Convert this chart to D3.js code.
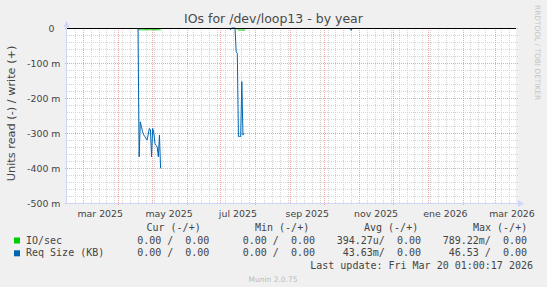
<!DOCTYPE html>
<html>
<head>
<meta charset="utf-8">
<script src="https://cdn.jsdelivr.net/npm/d3@7"></script>
<style>
	html, body { margin: 0; padding: 0; background: #f0f0f0; }
	svg { display: block; }
	text { font-family: 'DejaVu Sans', sans-serif; }
	.mono { font-family: 'DejaVu Sans Mono', monospace; white-space: pre; }
</style>
</head>
<body>
<div id="chart"></div>
<script>
// Chart data (values in milli-units, read side is negative)
const titleText = 'IOs for /dev/loop13 - by year';
const yAxisTitle = 'Units read (-) / write (+)';
const yTicks = [0, -100, -200, -300, -400, -500];
const xTickMonths = ['2025-03-01', '2025-05-01', '2025-07-01', '2025-09-01', '2025-11-01', '2026-01-01', '2026-03-01'];
const xTickLabels = ['mar 2025', 'may 2025', 'jul 2025', 'sep 2025', 'nov 2025', 'ene 2026', 'mar 2026'];

const reqSizeDates = [
	'2025-04-19', '2025-04-20', '2025-04-21', '2025-04-22', '2025-04-23', '2025-04-24', '2025-04-25',
	'2025-04-26', '2025-04-27', '2025-04-28', '2025-04-29', '2025-04-30', '2025-05-01', '2025-05-02',
	'2025-05-03', '2025-05-04', '2025-05-05', '2025-05-06', '2025-05-07', '2025-05-08', '2025-05-09',
	'2025-05-10',
	'2025-07-09', '2025-07-10', '2025-07-11',
	'2025-07-14', '2025-07-15', '2025-07-16', '2025-07-17', '2025-07-18', '2025-07-19', '2025-07-20',
	'2025-07-21', '2025-07-22', '2025-07-23',
	'2025-10-24', '2025-10-25', '2025-10-26'
];
const reqSizeRead = [
	0, -368, -268, -282, -296, -305, -310,
	-315, -320, -305, -287, -290, -368, -287,
	-300, -330, -335, -340, -368, -306, -401,
	null,
	0, -5, 0,
	0, -68, -72, -310, -310, -310, -153,
	-306, -300, null,
	0, -7, 0
];

const ioSecDates = [
	'2025-04-19', '2025-04-20', '2025-04-21', '2025-04-22', '2025-04-23', '2025-04-24', '2025-04-25',
	'2025-04-26', '2025-04-27', '2025-04-28', '2025-04-29', '2025-04-30', '2025-05-01', '2025-05-02',
	'2025-05-03', '2025-05-04', '2025-05-05', '2025-05-06', '2025-05-07', '2025-05-08', '2025-05-09',
	'2025-05-10',
	'2025-07-16', '2025-07-17', '2025-07-18', '2025-07-19', '2025-07-20', '2025-07-21', '2025-07-22',
	'2025-07-23', '2025-07-24'
];
const ioSecRead = [
	0, -5, -5, -5, -5, -5, -5,
	-5, -5, -5, -5, -5, -5, -5,
	-5, -5, -5, -5, -5, -5, -5,
	null,
	0, -6, -6, -6, -6, -6, -6,
	-6, null
];

// Legend table
const legendHeaders = ['Cur (-/+)', 'Min (-/+)', 'Avg (-/+)', 'Max (-/+)'];
const legendNames = ['IO/sec', 'Req Size (KB)'];
const legendColors = ['#00cc00', '#0066b3'];
const legendCur = ['0.00 /  0.00', '0.00 /  0.00'];
const legendMin = ['0.00 /  0.00', '0.00 /  0.00'];
const legendAvg = ['394.27u/  0.00', '43.63m/  0.00'];
const legendMax = ['789.22m/  0.00', '46.53 /  0.00'];
const lastUpdate = 'Last update: Fri Mar 20 01:00:17 2026';
const muninVersion = 'Munin 2.0.75';

const width = 547,
	height = 287,
	plotLeft = 67,
	plotRight = 516,
	plotTop = 28,
	plotBottom = 203;

const fontColor = '#444',
	axisColor = '#cfd6f8',
	gridColor = '#d4d4d4',
	mgridColor = '#f5a3a3';

const parseDay = d3.timeParse('%Y-%m-%d');

const svg = d3.select('#chart').append('svg')
	.attr('width', width)
	.attr('height', height);

svg.append('rect')
	.attr('width', width)
	.attr('height', height)
	.attr('fill', '#f0f0f0');

// Scales
const x = d3.scaleTime()
	.domain([new Date(2025, 1, 15, 1), new Date(2026, 2, 20, 1)])
	.range([plotLeft, plotRight]);

const y = d3.scaleLinear()
	.domain([d3.min(yTicks), d3.max(yTicks)])
	.range([plotBottom, plotTop]);

// Canvas
svg.append('rect')
	.attr('x', plotLeft)
	.attr('y', plotTop)
	.attr('width', plotRight - plotLeft)
	.attr('height', plotBottom - plotTop)
	.attr('fill', '#ffffff');

// Grid
const grid = svg.append('g')
	.attr('shape-rendering', 'crispEdges')
	.attr('stroke-width', 1)
	.attr('stroke-dasharray', '1,1');

const px = v => Math.round(v) + 0.5;
const monthStarts = d3.timeMonth.range(x.domain()[0], x.domain()[1]);
const weekLines = d3.timeSaturday.range(x.domain()[0], x.domain()[1])
	.filter(d => !monthStarts.some(m => Math.abs(x(m) - x(d)) < 2));
const minorY = d3.range(d3.min(yTicks), d3.max(yTicks), 20).filter(v => v % 100 !== 0);

grid.selectAll('.vminor')
	.data(weekLines)
	.enter().append('line')
	.attr('x1', d => px(x(d))).attr('x2', d => px(x(d)))
	.attr('y1', plotTop).attr('y2', plotBottom)
	.attr('stroke', gridColor);

grid.selectAll('.hminor')
	.data(minorY)
	.enter().append('line')
	.attr('x1', plotLeft).attr('x2', plotRight + 2)
	.attr('y1', d => px(y(d))).attr('y2', d => px(y(d)))
	.attr('stroke', gridColor);

grid.selectAll('.vmajor')
	.data(monthStarts)
	.enter().append('line')
	.attr('x1', d => px(x(d))).attr('x2', d => px(x(d)))
	.attr('y1', plotTop)
	.attr('y2', d => d.getMonth() % 2 === 1 ? plotBottom + 3 : plotBottom)
	.attr('stroke', mgridColor);

grid.selectAll('.hmajor')
	.data(yTicks)
	.enter().append('line')
	.attr('x1', plotLeft - 2).attr('x2', plotRight + 2)
	.attr('y1', d => px(y(d))).attr('y2', d => px(y(d)))
	.attr('stroke', mgridColor);

// Axes
svg.append('line')
	.attr('x1', plotLeft - 0.5).attr('x2', plotLeft - 0.5)
	.attr('y1', plotBottom + 1).attr('y2', 23)
	.attr('stroke', axisColor);
svg.append('line')
	.attr('x1', plotLeft - 1).attr('x2', 519)
	.attr('y1', plotBottom + 0.5).attr('y2', plotBottom + 0.5)
	.attr('stroke', axisColor);
svg.append('path')
	.attr('d', 'M63.5,27 L69.5,27 L66.5,21 Z')
	.attr('fill', axisColor);
svg.append('path')
	.attr('d', 'M518,200 L518,207 L524,203.5 Z')
	.attr('fill', axisColor);

// Tick labels
svg.selectAll('.ylabel')
	.data(yTicks)
	.enter().append('text')
	.attr('x', 60.5)
	.attr('y', d => y(d) + 3.5)
	.attr('text-anchor', 'end')
	.style('white-space', 'pre')
	.style('font-size', '9.4px')
	.style('fill', fontColor)
	.text(d => d === 0 ? '0  ' : d + ' m');

svg.selectAll('.xlabel')
	.data(xTickMonths)
	.enter().append('text')
	.attr('x', d => {
		const m = parseDay(d);
		return (x(m) + x(d3.timeMonth.offset(m, 1))) / 2;
	})
	.attr('y', 216.5)
	.attr('text-anchor', 'middle')
	.style('font-size', '9.4px')
	.style('fill', fontColor)
	.text((d, i) => xTickLabels[i]);

// Series
const line = d3.line()
	.defined(d => d.value !== null)
	.x(d => x(d.date))
	.y(d => y(d.value));

const series = [
	{ color: legendColors[0], data: ioSecDates.map((d, i) => ({ date: parseDay(d), value: ioSecRead[i] })) },
	{ color: legendColors[1], data: reqSizeDates.map((d, i) => ({ date: parseDay(d), value: reqSizeRead[i] })) }
];

series.forEach(s => {
	svg.append('path')
		.datum(s.data)
		.attr('d', line)
		.attr('fill', 'none')
		.attr('stroke', s.color)
		.attr('stroke-width', 1);
});

// Zero line
svg.append('line')
	.attr('x1', plotLeft).attr('x2', plotRight)
	.attr('y1', y(0) + 0.5).attr('y2', y(0) + 0.5)
	.attr('stroke', '#000000')
	.attr('stroke-width', 1);

// Title
svg.append('text')
	.attr('x', 273.5)
	.attr('y', 22.7)
	.attr('text-anchor', 'middle')
	.style('font-size', '12.5px')
	.style('fill', '#4a4a4a')
	.text(titleText);

svg.append('text')
	.attr('transform', 'translate(15.3,113.4) rotate(-90)')
	.attr('text-anchor', 'middle')
	.style('font-size', '11.3px')
	.style('fill', fontColor)
	.text(yAxisTitle);

svg.append('text')
	.attr('transform', 'translate(535,5) rotate(90)')
	.attr('text-anchor', 'start')
	.style('font-size', '7.4px')
	.style('fill', '#c4c4c4')
	.text('RRDTOOL / TOBI OETIKER');

// Legend
const headerX = [146.5, 255, 364, 473];
const colEnd = [209.4, 315, 421, 527];
const rowY = [243.5, 256.3];

svg.selectAll('.lhead')
	.data(legendHeaders)
	.enter().append('text')
	.attr('class', 'mono')
	.attr('x', (d, i) => headerX[i])
	.attr('y', 231)
	.style('font-size', '10px')
	.style('fill', fontColor)
	.text(d => d);

legendNames.forEach((name, i) => {
	svg.append('rect')
		.attr('x', 14)
		.attr('y', rowY[i] - 6)
		.attr('width', 6)
		.attr('height', 6)
		.attr('fill', legendColors[i]);
	svg.append('text')
		.attr('class', 'mono')
		.attr('x', 26)
		.attr('y', rowY[i])
		.style('font-size', '10px')
		.style('fill', fontColor)
		.text(name);
	[legendCur[i], legendMin[i], legendAvg[i], legendMax[i]].forEach((v, j) => {
		svg.append('text')
			.attr('class', 'mono')
			.attr('x', colEnd[j])
			.attr('y', rowY[i])
			.attr('text-anchor', 'end')
			.style('font-size', '10px')
			.style('fill', fontColor)
			.text(v);
	});
});

svg.append('text')
	.attr('class', 'mono')
	.attr('x', 533)
	.attr('y', 268.8)
	.attr('text-anchor', 'end')
	.style('font-size', '10px')
	.style('fill', fontColor)
	.text(lastUpdate);

svg.append('text')
	.attr('x', 273)
	.attr('y', 281.5)
	.attr('text-anchor', 'middle')
	.style('font-size', '7.5px')
	.style('fill', '#bbbbbb')
	.text(muninVersion);
</script>
</body>
</html>
